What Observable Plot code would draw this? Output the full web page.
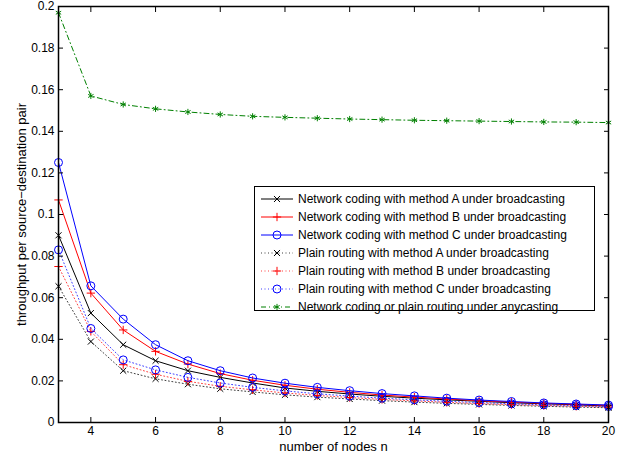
<!DOCTYPE html>
<html>
<head>
<meta charset="utf-8">
<script src="https://cdn.jsdelivr.net/npm/d3@7"></script>
<script src="https://cdn.jsdelivr.net/npm/@observablehq/plot@0.6"></script>
<style>
  html, body { margin: 0; padding: 0; background: #fff; }
  #wrap { position: relative; width: 629px; height: 455px; font-family: "Liberation Sans", Arial, sans-serif; }
  #legend { position: absolute; left: 254px; top: 186px; width: 341px; height: 125px; border: 1px solid #000; background: #fff; box-sizing: border-box; padding-top: 3px; }
  .row { display: flex; align-items: center; height: 18px; font-size: 12px; color: #000; white-space: nowrap; }
  .row svg { margin-left: 6px; margin-right: 5px; flex: none; }
</style>
</head>
<body>
<div id="wrap"></div>
<script>
// ---- data ----
const nodes = [3,4,5,6,7,8,9,10,11,12,13,14,15,16,17,18,19,20];
const ncA = [0.090,0.0526,0.0374,0.0297,0.0249,0.0217,0.0190,0.0166,0.0150,0.0137,0.0126,0.0117,0.0109,0.0102,0.0095,0.0090,0.0085,0.0079];
const ncB = [0.107,0.0622,0.0445,0.0342,0.0281,0.0235,0.0203,0.0179,0.0160,0.0145,0.0132,0.0122,0.0113,0.0105,0.0098,0.0092,0.0087,0.0082];
const ncC = [0.125,0.0657,0.0497,0.0374,0.0297,0.0249,0.0214,0.0189,0.0169,0.0153,0.0139,0.0128,0.0117,0.0108,0.0101,0.0094,0.0089,0.0084];
const prA = [0.0655,0.0389,0.0249,0.0210,0.0184,0.0162,0.0147,0.0133,0.0122,0.0113,0.0105,0.0098,0.0092,0.0087,0.0082,0.0078,0.0074,0.0071];
const prB = [0.075,0.0438,0.0278,0.0232,0.0198,0.0174,0.0157,0.0142,0.0130,0.0120,0.0111,0.0104,0.0097,0.0091,0.0086,0.0082,0.0078,0.0074];
const prC = [0.083,0.0452,0.0301,0.0253,0.0217,0.0190,0.0169,0.0152,0.0138,0.0127,0.0117,0.0109,0.0102,0.0096,0.0090,0.0085,0.0081,0.0077];
const anycast = [0.197,0.157,0.1529,0.1508,0.1493,0.1481,0.1472,0.1467,0.1463,0.1459,0.1456,0.1453,0.1451,0.1449,0.1447,0.1445,0.1444,0.1442];
const xTicks = [4,6,8,10,12,14,16,18,20];
const yTicks = [0,0.02,0.04,0.06,0.08,0.1,0.12,0.14,0.16,0.18,0.2];
const xTitle = "number of nodes n";
const yTitle = "throughput per source\u2212destination pair";
const labels = [
  "Network coding with method A under broadcasting",
  "Network coding with method B under broadcasting",
  "Network coding with method C under broadcasting",
  "Plain routing with method A under broadcasting",
  "Plain routing with method B under broadcasting",
  "Plain routing with method C under broadcasting",
  "Network coding or plain routing under anycasting"
];

// ---- styles ----
const series = [
  {values: ncA, color: "#000", dash: null, symbol: "times", r: 2.85, fill: "none"},
  {values: ncB, color: "#f00", dash: null, symbol: "plus", r: 2.8, fill: "none"},
  {values: ncC, color: "#00f", dash: null, symbol: "circle", r: 4, fill: "none"},
  {values: prA, color: "#000", dash: "1,2.5", symbol: "times", r: 2.85, fill: "none"},
  {values: prB, color: "#f00", dash: "1,2.5", symbol: "plus", r: 2.8, fill: "none"},
  {values: prC, color: "#00f", dash: "1,2.5", symbol: "circle", r: 4, fill: "none"},
  {values: anycast, color: "#008000", dash: "5,3,1,3", symbol: "asterisk", r: 2.9, fill: "#008000"}
];
series.forEach((s, i) => s.label = labels[i]);

const marks = [];
series.forEach(s => {
  const rows = nodes.map((n, i) => ({n, v: s.values[i]}));
  marks.push(Plot.line(rows, {x: "n", y: "v", stroke: s.color, strokeWidth: 1, strokeDasharray: s.dash, strokeOpacity: s.dash && s.dash.startsWith("1") ? 0.75 : 1}));
  marks.push(Plot.dot(rows, {x: "n", y: "v", symbol: s.symbol, r: s.r, stroke: s.color, fill: s.fill, strokeWidth: 1}));
});

const chart = Plot.plot({
  width: 629,
  height: 455,
  marginLeft: 58,
  marginRight: 21,
  marginTop: 6,
  marginBottom: 33,
  style: {fontFamily: "'Liberation Sans', Arial, sans-serif", fontSize: "12px", background: "#fff", color: "#000", overflow: "visible"},
  x: {domain: [3, 20]},
  y: {domain: [0, 0.2]},
  marks: [
    ...marks,
    Plot.frame({stroke: "#000", strokeWidth: 1.5}),
    Plot.axisX({ticks: xTicks, tickSize: -5, tickPadding: 9, label: null, fontSize: 12}),
    Plot.axisX({anchor: "top", ticks: xTicks, tickSize: -5, tickFormat: () => "", label: null}),
    Plot.axisY({ticks: yTicks, tickSize: -5, tickPadding: 9, label: null, fontSize: 12, tickFormat: d => String(+d.toFixed(2))}),
    Plot.axisY({anchor: "right", ticks: yTicks, tickSize: -5, tickFormat: () => "", label: null}),
    Plot.text([xTitle], {frameAnchor: "bottom", dy: 24, text: d => d, fontSize: 13, textAnchor: "middle", lineAnchor: "middle"}),
    Plot.text([yTitle], {frameAnchor: "left", dx: -37, rotate: -90, text: d => d, fontSize: 13, textAnchor: "middle", lineAnchor: "middle"})
  ]
});

const wrap = document.getElementById("wrap");
wrap.appendChild(chart);

// ---- legend ----
const legend = document.createElement("div");
legend.id = "legend";
series.forEach(s => {
  const row = document.createElement("div");
  row.className = "row";
  const svg = d3.create("svg").attr("width", 32).attr("height", 12);
  svg.append("line").attr("x1", 0).attr("x2", 32).attr("y1", 6).attr("y2", 6)
    .attr("stroke", s.color).attr("stroke-width", 1)
    .attr("stroke-dasharray", s.dash).attr("stroke-opacity", s.dash && s.dash.startsWith("1") ? 0.75 : 1);
  const sym = {times: d3.symbolTimes, plus: d3.symbolPlus, circle: d3.symbolCircle, asterisk: d3.symbolAsterisk}[s.symbol];
  svg.append("path").attr("transform", "translate(16,6)")
    .attr("d", d3.symbol(sym, Math.PI * s.r * s.r)())
    .attr("stroke", s.color).attr("fill", s.fill).attr("stroke-width", 1);
  row.appendChild(svg.node());
  const span = document.createElement("span");
  span.textContent = s.label;
  row.appendChild(span);
  legend.appendChild(row);
});
wrap.appendChild(legend);
</script>
</body>
</html>
